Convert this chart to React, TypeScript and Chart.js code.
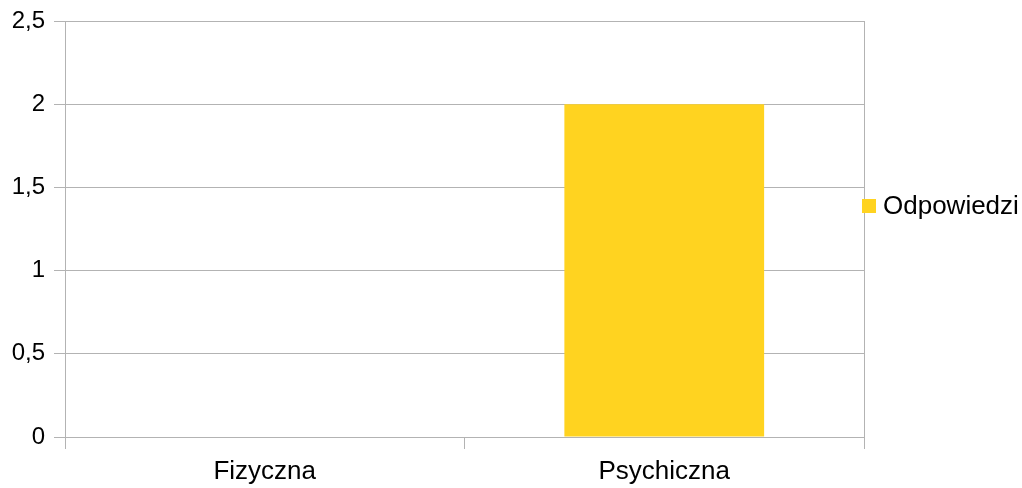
import React, { useEffect, useRef } from "react";
import { Chart, registerables } from "chart.js";

Chart.register(...registerables);

const categories = ["Fizyczna", "Psychiczna"];
const seriesName = "Odpowiedzi";
const seriesValues = [0, 2];
const yMin = 0;
const yMax = 2.5;
const yStep = 0.5;

const FONT = "'Liberation Sans', Arial, sans-serif";
const GRID = "#b3b3b3";
const BAR = "#ffd320";

const legendPlugin = {
  id: "sideLegend",
  afterDraw(chart: any) {
    const ctx = chart.ctx;
    const area = chart.chartArea;
    const ds = chart.data.datasets[0];
    ctx.save();
    const x = area.right - 2;
    const cy = 206;
    ctx.fillStyle = ds.backgroundColor;
    ctx.fillRect(x, cy - 7, 14, 14);
    ctx.fillStyle = "#000";
    ctx.font = `26px ${FONT}`;
    ctx.textBaseline = "middle";
    ctx.textAlign = "left";
    ctx.fillText(ds.label, x + 21, cy + 1);
    ctx.restore();
  },
};

export default function App() {
  const ref = useRef<HTMLCanvasElement | null>(null);
  useEffect(() => {
    if (!ref.current) return;
    const chart = new Chart(ref.current, {
      type: "bar",
      data: {
        labels: categories,
        datasets: [
          {
            label: seriesName,
            data: seriesValues,
            backgroundColor: BAR,
            borderWidth: 0,
            barPercentage: 1,
            categoryPercentage: 0.5,
          },
        ],
      },
      options: {
        responsive: false,
        animation: false,
        devicePixelRatio: 1,
        layout: { padding: { left: 0, top: 21, right: 158, bottom: 0 } },
        plugins: {
          legend: { display: false },
          tooltip: { enabled: false },
          title: { display: false },
        },
        scales: {
          x: {
            type: "category",
            offset: true,
            grid: {
              offset: true,
              drawOnChartArea: true,
              color: (c: any) => (c.index === 1 ? "rgba(0,0,0,0)" : GRID),
              tickColor: GRID,
              tickLength: 12,
              lineWidth: 1,
            },
            border: { display: true, color: GRID },
            ticks: {
              color: "#000",
              font: { family: FONT, size: 26 },
              padding: 7,
              maxRotation: 0,
            },
            afterFit: (s: any) => {
              s.height = 51;
            },
          },
          y: {
            min: yMin,
            max: yMax,
            ticks: {
              stepSize: yStep,
              color: "#000",
              font: { family: FONT, size: 24, lineHeight: 1 },
              padding: 9,
              callback: (v: any) => String(v).replace(".", ","),
            },
            grid: { color: GRID, tickColor: GRID, tickLength: 11, lineWidth: 1 },
            border: { display: true, color: GRID },
            afterFit: (s: any) => {
              s.width = 65;
            },
          },
        },
      },
      plugins: [legendPlugin],
    });
    return () => chart.destroy();
  }, []);
  return (
    <div style={{ position: "fixed", left: 0, top: 0, width: 1022, height: 488, background: "#fff" }}>
      <canvas ref={ref} width={1022} height={488} style={{ width: 1022, height: 488 }} />
    </div>
  );
}
